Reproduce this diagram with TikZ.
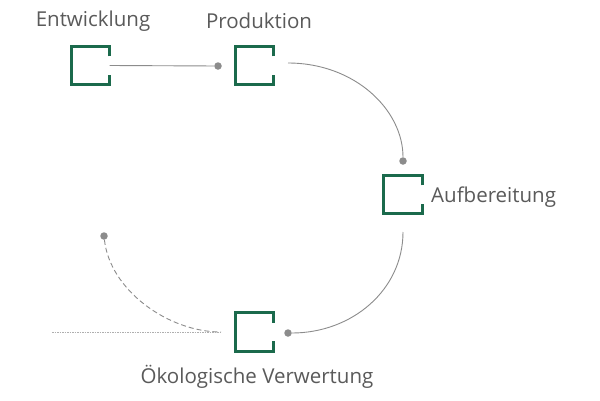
\documentclass[tikz,border=0pt]{standalone}
\usepackage{fontspec}
\setmainfont{Open Sans}
\definecolor{brgreen}{HTML}{1B6A4C}
\definecolor{txtgray}{HTML}{5A5A5A}
\definecolor{lngray}{HTML}{8C8C8C}
\newcommand\bracketdraw[1]{\draw[brgreen, line width=3pt, line join=miter]
  ([yshift=-10pt]#1.north east) -- (#1.north east) -- (#1.north west) -- (#1.south west) -- (#1.south east) -- ([yshift=10pt]#1.south east);}
\begin{document}
\begin{tikzpicture}[x=1pt,y=-1pt,
 box/.style={minimum width=38pt, minimum height=38pt, inner sep=0},
 lbl/.style={text=txtgray, font=\fontsize{20.5}{24}\selectfont, inner sep=0},
 conn/.style={draw=lngray, line width=0.9pt},
 dotc/.style={circle, fill=lngray, minimum size=7.5pt, inner sep=0}]
\useasboundingbox[fill=white] (0,0) rectangle (600,400);
\node[box] (e) at (90.5,65.5) {};
\node[box] (p) at (254.5,65.5) {};
\node[box] (a) at (403,194.5) {};
\node[box] (o) at (254.5,332) {};
\bracketdraw{e}
\bracketdraw{p}
\bracketdraw{a}
\bracketdraw{o}
\node[lbl] (le) at (93,21) {Entwicklung};
\node[lbl] (lp) at (259,21) {Produktion};
\node[lbl, anchor=west] (la) at (431,197) {Aufbereitung};
\node[lbl] (lo) at (257,377) {Ökologische Verwertung};
\node[dotc] (d1) at (218,66) {};
\node[dotc] (d2) at (403,161) {};
\node[dotc] (d3) at (288,333) {};
\node[dotc] (d4) at (104,236) {};
\coordinate (c1) at (288,63);
\coordinate (c2) at (403,232);
\coordinate (c3) at (221,332);
\coordinate (c4) at (52,332);
\draw[conn] (e.east) -- (d1);
\draw[conn] (c1) .. controls (355,63) and (403,110) .. (d2);
\draw[conn] (c2) .. controls (403,290) and (352,333) .. (d3);
\draw[conn, dashed, dash pattern=on 5pt off 3pt] (d4) .. controls (110,290) and (168,332) .. (c3);
\draw[draw=lngray!70, line width=0.5pt, dash pattern=on 1.5pt off 1pt] (c4) -- (c3);
\end{tikzpicture}
\end{document}
